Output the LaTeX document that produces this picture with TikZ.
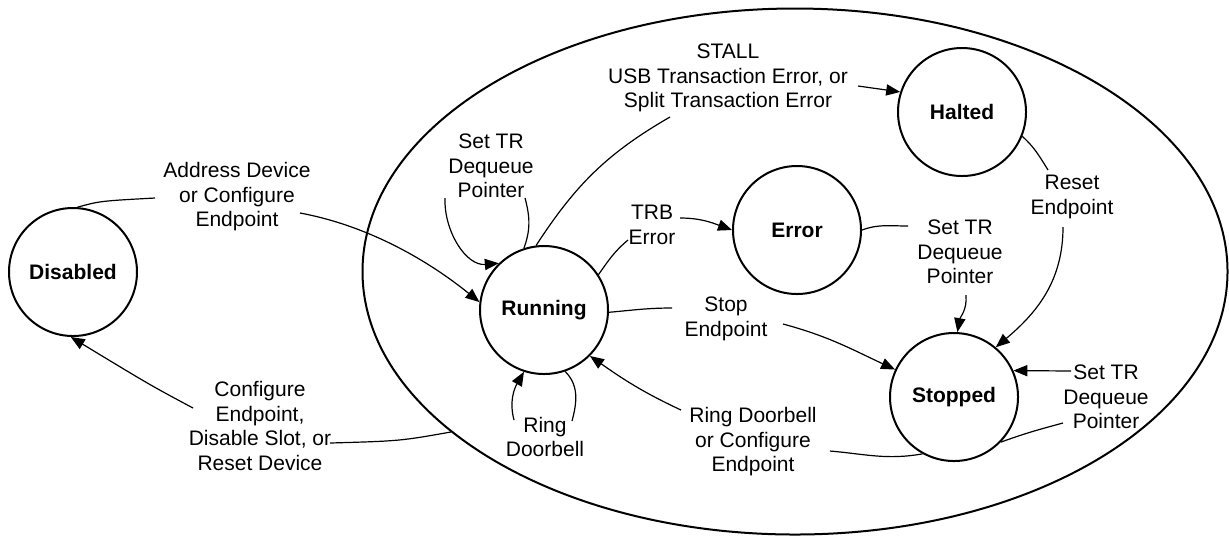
\documentclass[tikz,border=0pt]{standalone}
\usepackage{fontspec}
\setmainfont{Liberation Sans}
\usetikzlibrary{arrows.meta,shapes.geometric}
\begin{document}
\begin{tikzpicture}[x=0.5pt,y=-0.5pt,
  state/.style={circle,draw,line width=1pt,minimum size=64pt,inner sep=0pt,font=\fontsize{10.5}{12.25}\selectfont\bfseries},
  lbl/.style={align=center,inner sep=0pt,font=\fontsize{10.5}{12.25}\selectfont},
  conn/.style={line width=0.6pt},
  arr/.style={conn,-{Triangle[length=7pt,width=5.6pt]}},
]
\useasboundingbox (0,0) rectangle (1229,538);
\node[ellipse,draw,line width=1pt,minimum width=432.5pt,minimum height=263pt,inner sep=0pt] (big) at (795,271.5) {};

% states
\node[state] (dis) at (73,272) {Disabled};
\node[state] (run) at (544,310) {Running};
\node[state] (err) at (797,230) {Error};
\node[state] (hal) at (962,112) {Halted};
\node[state] (stp) at (954,397) {Stopped};

% labels
\node[lbl] (addr) at (237,197) {Address Device\\or Configure\\Endpoint};
\node[lbl] (cfgdis) at (260,426) {Configure\\Endpoint,\\Disable Slot, or\\Reset Device};
\node[lbl] (settra) at (491,166) {Set TR\\Dequeue\\Pointer};
\node[lbl] (stall) at (728,78) {STALL\\USB Transaction Error, or\\Split Transaction Error};
\node[lbl] (trb) at (652,225) {TRB\\Error};
\node[lbl] (settrb) at (960,252) {Set TR\\Dequeue\\Pointer};
\node[lbl] (reset) at (1072,197) {Reset\\Endpoint};
\node[lbl] (stop) at (726,319) {Stop\\Endpoint};
\node[lbl] (ringcfg) at (753,442) {Ring Doorbell\\or Configure\\Endpoint};
\node[lbl] (ring) at (545,437) {Ring\\Doorbell};
\node[lbl] (settrc) at (1106,397) {Set TR\\Dequeue\\Pointer};

% free ends near labels
\coordinate (a1) at (155,198);
\coordinate (a2) at (300,213);
\coordinate (c1) at (330,443);
\coordinate (c2) at (193,408);
\coordinate (s1) at (525,198);
\coordinate (s2) at (445,198);
\coordinate (st1) at (670,117);
\coordinate (st2) at (858,86);
\coordinate (t1) at (628,240);
\coordinate (t2) at (680,218);
\coordinate (e1) at (908,226);
\coordinate (e2) at (966,295);
\coordinate (r1) at (1048,170);
\coordinate (r2) at (1063,227);
\coordinate (p1) at (672,308);
\coordinate (p2) at (783,324);
\coordinate (g1) at (681,410);
\coordinate (g2) at (830,451);
\coordinate (d1) at (572,421);
\coordinate (d2) at (514,420);
\coordinate (x1) at (1071,371);
\coordinate (x2) at (1063,423);

% Disabled -> Running
\draw[conn] (dis.86) .. controls (100,201) .. (a1);
\draw[arr] (a2) .. controls (370,226) and (430,262) .. (run.173);
% Running -> Disabled
\draw[conn] (big.205) .. controls (400,441) .. (c1);
\draw[arr] (c2) .. controls (150,385) .. (dis.-92);
% Running self loop (Set TR Dequeue Pointer)
\draw[conn] (run.108) to[out=70,in=-75] (s1);
\draw[arr] (s2) to[out=-92,in=185] (run.134);
% Running -> Halted
\draw[conn] (run.97) to[out=57,in=-150] (st1);
\draw[arr] (st2) -- (hal.162);
% Running -> Error
\draw[conn] (run.33) to[out=55,in=-140] (t1);
\draw[arr] (t2) to[out=0,in=160] (err.180);
% Error -> Stopped
\draw[conn] (err.0) to[out=20,in=180] (e1);
\draw[arr] (e2) to[out=-85,in=80] (stp.87);
% Halted -> Stopped
\draw[conn] (hal.-22) to[out=-42,in=122] (r1);
\draw[arr] (r2) to[out=-90,in=40] (stp.50);
% Running -> Stopped
\draw[conn] (run.-2) to[out=5,in=180] (p1);
\draw[arr] (p2) to[out=-15,in=155] (stp.155);
% Stopped -> Running
\draw[conn] (stp.-119) to[out=190,in=-5] (g2);
\draw[arr] (g1) to[out=155,in=-35] (run.-45);
% Running self loop (Ring Doorbell)
\draw[conn] (run.-71) to[out=-45,in=75] (d1);
\draw[arr] (d2) to[out=105,in=-120] (run.-108);
% Stopped self loop (Set TR Dequeue Pointer)
\draw[arr] (x1) -- (stp.24);
\draw[conn] (x2) to[out=195,in=20] (stp.-44);
\end{tikzpicture}
\end{document}
